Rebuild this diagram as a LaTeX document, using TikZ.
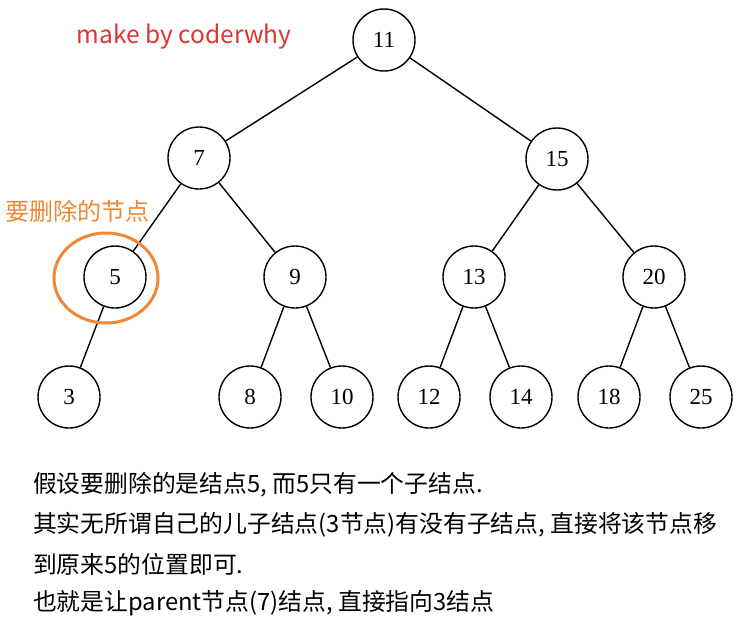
\documentclass[tikz,border=0pt]{standalone}
\usepackage{fontspec}
\setmainfont{Liberation Serif}
\newfontfamily\cjkfont{Noto Sans CJK SC}
\usetikzlibrary{positioning}
\definecolor{makered}{RGB}{222,52,48}
\definecolor{delorange}{RGB}{240,135,55}
\tikzset{
  tnode/.style={circle,draw=black,line width=1.4pt,minimum size=62pt,
    inner sep=0pt,font=\fontsize{23}{23}\selectfont},
  tedge/.style={line width=1.4pt,black},
  makelbl/.style={font=\cjkfont\fontsize{24.5}{24.5}\selectfont,text=makered,inner sep=0pt},
  dellbl/.style={font=\cjkfont\fontsize{24}{24}\selectfont,text=delorange,inner sep=0pt},
  delring/.style={draw=delorange,line width=3pt},
  notelbl/.style={font=\cjkfont\fontsize{23.8}{23.8}\selectfont,anchor=west,inner sep=0pt},
}
\begin{document}
\begin{tikzpicture}[x=1pt,y=-1pt]
  \useasboundingbox (0,0) rectangle (747,625);
  \node[tnode] (n11) at (384,40) {11};
  \node[tnode] (n7) at (199,158) {7};
  \node[tnode] (n15) at (557,159) {15};
  \node[tnode] (n5) at (115,277) {5};
  \node[tnode] (n9) at (295,277) {9};
  \node[tnode] (n13) at (474,277) {13};
  \node[tnode] (n20) at (654,277) {20};
  \node[tnode] (n3) at (69,397) {3};
  \node[tnode] (n8) at (250,397) {8};
  \node[tnode] (n10) at (342,397) {10};
  \node[tnode] (n12) at (429,397) {12};
  \node[tnode] (n14) at (521,397) {14};
  \node[tnode] (n18) at (609,397) {18};
  \node[tnode] (n25) at (701,397) {25};
  \draw[tedge] (n11)--(n7) (n11)--(n15)
    (n7)--(n5) (n7)--(n9) (n15)--(n13) (n15)--(n20)
    (n5)--(n3) (n9)--(n8) (n9)--(n10) (n13)--(n12) (n13)--(n14)
    (n20)--(n18) (n20)--(n25);
  \draw[delring] (106,278) ellipse [x radius=52pt,y radius=45pt];
  \node[makelbl] (make) at (184,37) {make by coderwhy};
  \node[dellbl,anchor=west] (dellabel) at (5,211) {要删除的节点};
  \node[notelbl] (note1) at (33,485) {假设要删除的是结点5, 而5只有一个子结点.};
  \node[notelbl] (note2) at (33,525) {其实无所谓自己的儿子结点(3节点)有没有子结点, 直接将该节点移};
  \node[notelbl] (note3) at (33,564) {到原来5的位置即可.};
  \node[notelbl] (note4) at (33,603) {也就是让parent节点(7)结点, 直接指向3结点};
\end{tikzpicture}
\end{document}
